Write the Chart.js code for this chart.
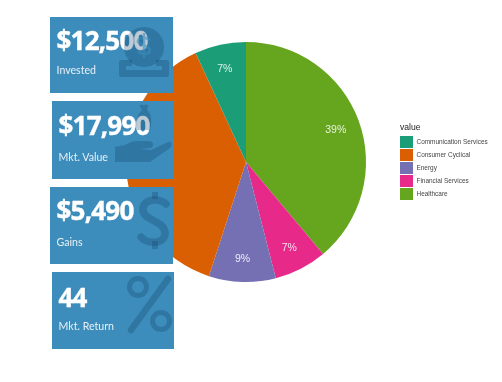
<!DOCTYPE html>
<html>
<head>
<meta charset="utf-8">
<script src="https://cdn.jsdelivr.net/npm/chart.js@4"></script>
<style>
  html, body { margin: 0; padding: 0; background: #fff; }
  #stage { position: relative; width: 502px; height: 382px; overflow: hidden; }
  #pie { position: absolute; left: 0; top: 0; }
  .card { position: absolute; background: #3c8dbc; color: #fff; font-family: "Open Sans", sans-serif; }
  .card-value { position: absolute; left: 6.5px; font-size: 26px; font-weight: 700; line-height: 30px; letter-spacing: -0.8px; white-space: nowrap; -webkit-text-stroke: 0.4px #fff; filter: blur(0.35px); }
  .card-label { position: absolute; left: 6.5px; font-family: Lato, sans-serif; font-size: 10.6px; line-height: 14px; color: #e8f1f6; white-space: nowrap; filter: blur(0.3px); }
  .card svg { position: absolute; left: 0; top: 0; }
  #legend { position: absolute; left: 400px; top: 121px; font-family: "Liberation Sans", sans-serif; filter: blur(0.3px); }
  .legend-title { font-size: 8.6px; line-height: 12px; color: #222; margin-bottom: 3px; }
  .legend-row { position: relative; height: 12.9px; }
  .legend-swatch { position: absolute; left: 0; top: 0.4px; width: 12.5px; height: 12px; }
  .legend-text { position: absolute; left: 16.5px; top: 0; font-size: 6.45px; line-height: 12.9px; color: #444; white-space: nowrap; }
</style>
</head>
<body>
<div id="stage">
  <canvas id="pie" width="502" height="382"></canvas>
  <div id="cards"></div>
  <div id="legend"></div>
</div>
<script>
const LEGEND_TITLE = "value";
const SECTORS = ["Communication Services", "Consumer Cyclical", "Energy", "Financial Services", "Healthcare"];
const SECTOR_SHARE = [6.9, 38.1, 9, 7.1, 38.9];
const SECTOR_LABELS = ["7%", "38%", "9%", "7%", "39%"];
const SECTOR_COLORS = ["#1b9e77", "#d95f02", "#7570b3", "#e7298a", "#66a61e"];

const CARD_VALUES = ["$12,500", "$17,990", "$5,490", "44"];
const CARD_LABELS = ["Invested", "Mkt. Value", "Gains", "Mkt. Return"];
const CARD_BOXES = [
  { x: 50, y: 17, w: 123, h: 76, valueTop: 8, labelTop: 46 },
  { x: 52, y: 101, w: 122, h: 78, valueTop: 9, labelTop: 49 },
  { x: 50, y: 187, w: 123, h: 77, valueTop: 8, labelTop: 48 },
  { x: 52, y: 272, w: 122, h: 77, valueTop: 10, labelTop: 47 },
];

const ICON_WASH = "rgba(15,60,95,0.27)";
const CARD_ICONS = [
  // coin dropping into a tray
  `<path fill="${ICON_WASH}" d="M94 10a20 20 0 1 0 .01 0z"/>
   <path fill="none" stroke="#3c8dbc" stroke-opacity=".6" stroke-width="2.6" d="M100 23c-3-3-11-3-12 1s12 4 12 9-9 5-12 1M94 16v25"/>
   <path fill="${ICON_WASH}" fill-rule="evenodd" d="M71 43h11v6H76v4h36v-4h-6v-6h11c1 0 2 1 2 2v13c0 1-1 2-2 2H71c-1 0-2-1-2-2V45c0-1 1-2 2-2z"/>`,
  // hand holding a money bag
  `<path fill="${ICON_WASH}" d="M63 46l10-2c6-4 11-4 15-4l9 0c5 0 6 6 1 7l-10 1 11 1 17-8c4-1 5 3 2 6L98 61H63z"/>
   <path fill="${ICON_WASH}" d="M88 6c-1-2 1-3 3-2h2c2-1 4 0 3 2l-1 3c5 4 5 13 3 20H85c-2-8 0-15 5-20z"/>`,
  // dollar sign
  `<path fill="none" stroke="${ICON_WASH}" stroke-width="7.5" stroke-linecap="round" d="M116 17c-4-5-21-7-23 4-2 13 23 12 22 26-1 11-19 10-24 3"/>
   <path fill="none" stroke="${ICON_WASH}" stroke-width="6" d="M105 5v7M105 54v8"/>`,
  // percent sign
  `<circle cx="86" cy="15" r="8.5" fill="none" stroke="${ICON_WASH}" stroke-width="5"/>
   <circle cx="109" cy="49" r="8.5" fill="none" stroke="${ICON_WASH}" stroke-width="5"/>
   <path fill="none" stroke="${ICON_WASH}" stroke-width="6.5" stroke-linecap="round" d="M116 7L79 58"/>`,
];

function renderCard(value, i) {
  const box = CARD_BOXES[i];
  return `
    <div class="card" style="left:${box.x}px;top:${box.y}px;width:${box.w}px;height:${box.h}px">
      <div class="card-value" style="top:${box.valueTop}px">${value}</div>
      <div class="card-label" style="top:${box.labelTop}px">${CARD_LABELS[i]}</div>
      <svg width="${box.w}" height="${box.h}">${CARD_ICONS[i]}</svg>
    </div>`;
}

function renderLegendRow(name, i) {
  return `
    <div class="legend-row">
      <span class="legend-swatch" style="background:${SECTOR_COLORS[i]}"></span>
      <span class="legend-text">${name}</span>
    </div>`;
}

document.getElementById("cards").innerHTML = CARD_VALUES.map(renderCard).join("");
document.getElementById("legend").innerHTML =
  `<div class="legend-title">${LEGEND_TITLE}</div>` + SECTORS.map(renderLegendRow).join("");

// text sits at 80% of the radius, in the middle of each slice
const sliceLabels = {
  id: "sliceLabels",
  afterDatasetsDraw(chart) {
    const ctx = chart.ctx;
    const labels = [...SECTOR_LABELS].reverse();
    ctx.save();
    ctx.font = '10.5px "Liberation Sans", sans-serif';
    ctx.fillStyle = "rgba(255,255,255,0.85)";
    ctx.textAlign = "center";
    ctx.textBaseline = "middle";
    chart.getDatasetMeta(0).data.forEach((arc, i) => {
      const mid = (arc.startAngle + arc.endAngle) / 2;
      const r = arc.outerRadius * 0.8;
      ctx.fillText(labels[i], arc.x + Math.cos(mid) * r - 0.5, arc.y + Math.sin(mid) * r + 1);
    });
    ctx.restore();
  },
};

// slices run clockwise in the reverse of the legend order
new Chart(document.getElementById("pie").getContext("2d"), {
  type: "pie",
  data: {
    labels: [...SECTORS].reverse(),
    datasets: [{
      data: [...SECTOR_SHARE].reverse(),
      backgroundColor: [...SECTOR_COLORS].reverse(),
      borderWidth: 0,
    }],
  },
  options: {
    responsive: false,
    animation: false,
    layout: { padding: { left: 126, right: 136, top: 42, bottom: 100 } },
    plugins: { legend: { display: false }, tooltip: { enabled: false } },
  },
  plugins: [sliceLabels],
});
</script>
</body>
</html>
